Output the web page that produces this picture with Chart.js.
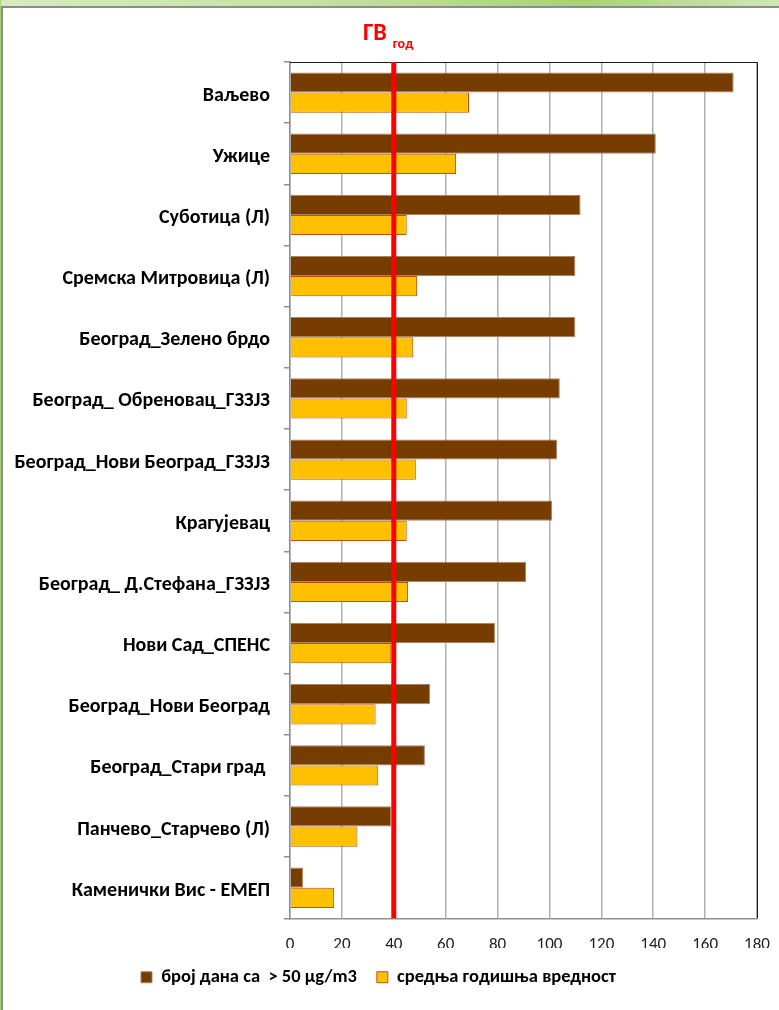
<!DOCTYPE html>
<html>
<head>
<meta charset="utf-8">
<script src="https://cdn.jsdelivr.net/npm/chart.js@4.4.1/dist/chart.umd.min.js"></script>
<style>
    html, body { margin: 0; padding: 0; background: #fff; }
    #page { position: relative; width: 779px; height: 1010px; overflow: hidden; background: #fff; }
    #strip { position: absolute; left: 0; top: 0; width: 779px; height: 6px;
        background: linear-gradient(90deg, #d6ebbf 0%, #c4e2a2 40%, #a9d27a 75%, #cfe7b5 100%); }
    #leftStrip { position: absolute; left: 0; top: 0; width: 1px; height: 1010px; background: #a9d27a; }
    #frame { position: absolute; left: 1px; top: 6px; width: 778px; height: 1004px;
        border-top: 2px solid #8c8c8c; border-left: 2px solid #8c8c8c; box-sizing: border-box; }
    #wrap { position: absolute; left: 0; top: 0; width: 779px; height: 1010px; }
</style>
</head>
<body>
<div id="page">
    <div id="strip"></div>
    <div id="leftStrip"></div>
    <div id="frame"></div>
    <div id="wrap"><canvas id="pmChart" width="779" height="1010"></canvas></div>
</div>
<script>
// Stations (top to bottom)
const stations = [
    "Ваљево",
    "Ужице",
    "Суботица (Л)",
    "Сремска Митровица (Л)",
    "Београд_Зелено брдо",
    "Београд_ Обреновац_ГЗЗЈЗ",
    "Београд_Нови Београд_ГЗЗЈЗ",
    "Крагујевац",
    "Београд_ Д.Стефана_ГЗЗЈЗ",
    "Нови Сад_СПЕНС",
    "Београд_Нови Београд",
    "Београд_Стари град ",
    "Панчево_Старчево (Л)",
    "Каменички Вис - ЕМЕП",
];

// број дана са > 50 µg/m3
const daysOver50 = [171, 141, 112, 110, 110, 104, 103, 101, 91, 79, 54, 52, 39, 5];

// средња годишња вредност
const annualMean = [69, 64, 45, 49, 47.5, 45, 48.5, 45, 45.5, 39, 33, 34, 26, 17];

const xTicks = [0, 20, 40, 60, 80, 100, 120, 140, 160, 180];
const limitValue = 40;   // ГВ год

const fontFamily = "Carlito, Calibri, 'Liberation Sans Narrow', 'Open Sans', sans-serif";

// red limit line + label + plot frame (top/right)
const limitLinePlugin = {
    id: "limitLine",
    afterDatasetsDraw(chart) {
        const { ctx, chartArea, scales } = chart;
        const x = scales.x.getPixelForValue(limitValue);

        ctx.save();
        // plot frame top and right
        ctx.strokeStyle = "#1a1a1a";
        ctx.lineWidth = 1;
        ctx.beginPath();
        ctx.moveTo(chartArea.left, chartArea.top + 0.5);
        ctx.lineTo(chartArea.right + 0.5, chartArea.top + 0.5);
        ctx.lineTo(chartArea.right + 0.5, chartArea.bottom);
        ctx.stroke();

        // limit line
        ctx.strokeStyle = "#ff0000";
        ctx.lineWidth = 5;
        ctx.beginPath();
        ctx.moveTo(x, chartArea.top);
        ctx.lineTo(x, chartArea.bottom);
        ctx.stroke();

        // label
        ctx.fillStyle = "#ff0000";
        ctx.textBaseline = "alphabetic";
        ctx.textAlign = "right";
        ctx.font = "bold 24px " + fontFamily;
        ctx.fillText("ГВ", x - 7, chartArea.top - 22);
        ctx.textAlign = "left";
        ctx.font = "bold 14px " + fontFamily;
        ctx.fillText("год", x - 1, chartArea.top - 14);
        ctx.restore();
    }
};

const ctx = document.getElementById("pmChart").getContext("2d");
new Chart(ctx, {
    type: "bar",
    data: {
        labels: stations,
        datasets: [
            {
                label: "број дана са  > 50 µg/m3",
                data: daysOver50,
                backgroundColor: "#773c00",
                borderColor: "#a98466",
                borderWidth: 1,
                categoryPercentage: 0.66,
                barPercentage: 1.0,
            },
            {
                label: "средња годишња вредност",
                data: annualMean,
                backgroundColor: "#ffc000",
                borderColor: "#b8540c",
                borderWidth: 1,
                categoryPercentage: 0.66,
                barPercentage: 1.0,
            },
        ],
    },
    options: {
        indexAxis: "y",
        responsive: false,
        animation: false,
        layout: { padding: { top: 62, right: 22, bottom: 13.5, left: 0 } },
        scales: {
            x: {
                min: 0,
                max: 180,
                afterBuildTicks(scale) {
                    scale.ticks = xTicks.map(v => ({ value: v }));
                },
                grid: {
                    color: "#b0b0b0", lineWidth: 1.5,
                    drawTicks: true, tickLength: 24, tickColor: "rgba(0,0,0,0)",
                },
                border: { display: true, color: "#909090", width: 1.5 },
                ticks: { color: "#222", font: { family: fontFamily, size: 17, lineHeight: 0.1 }, padding: 2, maxRotation: 0, minRotation: 0 },
            },
            y: {
                afterFit(scale) { scale.width = 290; },
                grid: { drawOnChartArea: false, drawTicks: true, tickLength: 6, color: "#909090", lineWidth: 1.5, offset: true },
                border: { display: true, color: "#909090", width: 1.5 },
                ticks: { color: "#000", font: { family: fontFamily, size: 20, weight: "bold" }, padding: 14, labelOffset: 3, autoSkip: false },
            },
        },
        plugins: {
            legend: {
                position: "bottom",
                labels: {
                    color: "#000",
                    font: { family: fontFamily, size: 18.5, weight: "bold" },
                    boxWidth: 11,
                    boxHeight: 11,
                    padding: 20,
                    useBorderRadius: false,
                },
            },
            tooltip: { enabled: false },
        },
    },
    plugins: [limitLinePlugin],
});
</script>
</body>
</html>
